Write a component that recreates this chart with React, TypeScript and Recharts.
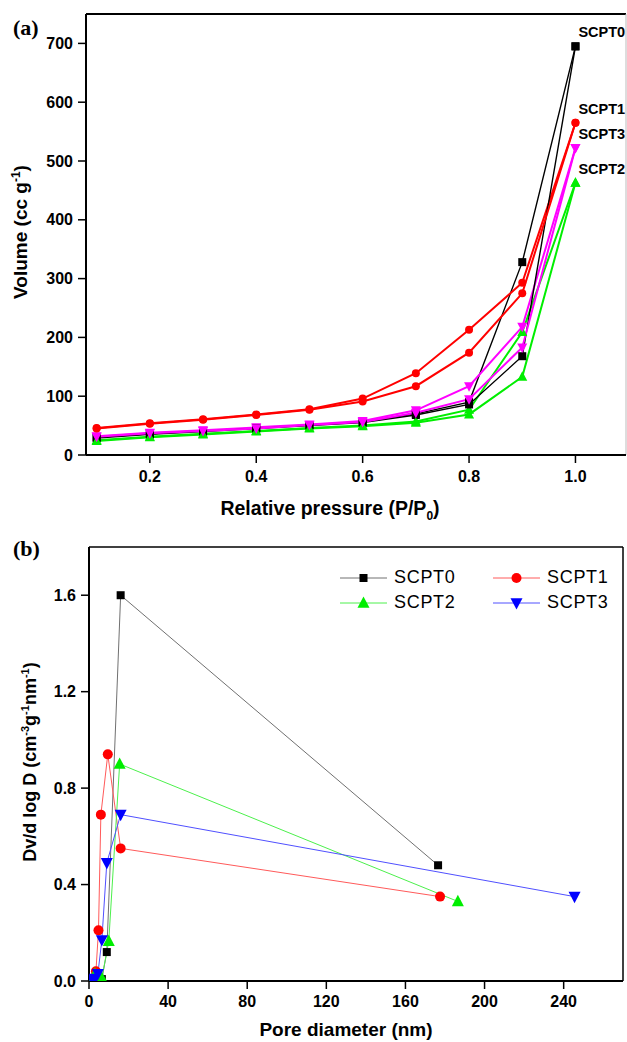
import React from 'react';
import { LineChart, Line, XAxis, YAxis, ReferenceLine, Label, Legend } from 'recharts';

// ---------- Panel (a): N2 isotherms ----------
const pressure = [0.1, 0.2, 0.3, 0.4, 0.5, 0.6, 0.7, 0.8, 0.9, 1.0];
const scpt0Ads = [29, 35, 40, 45, 50, 55, 68, 86, 168, 695];
const scpt0Des = [30, 36, 41, 46, 51, 56, 70, 90, 328, 695];
const scpt1Ads = [45, 53, 60, 68, 77, 91, 117, 174, 275, 565];
const scpt1Des = [46, 54, 61, 69, 78, 96, 139, 213, 293, 565];
const scpt2Ads = [24, 30, 35, 40, 45, 49, 55, 69, 133, 463];
const scpt2Des = [25, 31, 36, 41, 46, 50, 57, 77, 209, 463];
const scpt3Ads = [31, 37, 41, 45, 51, 56, 72, 95, 183, 522];
const scpt3Des = [32, 38, 42, 47, 52, 58, 76, 117, 218, 522];
const pressureTicks = [0.2, 0.4, 0.6, 0.8, 1.0];
const volumeTicks = [0, 100, 200, 300, 400, 500, 600, 700];

// ---------- Panel (b): pore size distribution ----------
const scpt0D = [2, 4, 6.5, 9, 16, 176.5];
const scpt0V = [0.002, 0.005, 0.008, 0.12, 1.6, 0.48];
const scpt1D = [2, 3.5, 4.8, 6, 9.5, 16, 177.5];
const scpt1V = [0.01, 0.04, 0.21, 0.69, 0.94, 0.55, 0.35];
const scpt2D = [2, 3, 6.5, 10, 15.5, 186.5];
const scpt2V = [0.005, 0.03, 0.012, 0.165, 0.9, 0.33];
const scpt3D = [1.8, 3, 4.5, 6.5, 9, 16, 245.5];
const scpt3V = [0.005, 0.01, 0.03, 0.17, 0.49, 0.69, 0.35];
const diameterTicks = [0, 40, 80, 120, 160, 200, 240];
const dvTicks = [0, 0.4, 0.8, 1.2, 1.6];

const FONT = "Arial, 'Liberation Sans', sans-serif";

const toIso = (vals: number[]) => pressure.map((p, i) => ({ p, v: vals[i] }));
const toDesc = (vals: number[]) => toIso(vals).slice().reverse();
const toPsd = (d: number[], v: number[]) => d.map((x, i) => ({ d: x, v: v[i] }));

type Shape = 'square' | 'circle' | 'up' | 'down';

const marker = (shape: Shape, cx: number, cy: number, size: number, fill: string, key?: any) => {
  const h = size / 2;
  if (shape === 'square') return <rect key={key} x={cx - h} y={cy - h} width={size} height={size} fill={fill} />;
  if (shape === 'circle') return <circle key={key} cx={cx} cy={cy} r={h} fill={fill} />;
  if (shape === 'up')
    return <polygon key={key} points={`${cx},${cy - size * 0.55} ${cx - h},${cy + size * 0.4} ${cx + h},${cy + size * 0.4}`} fill={fill} />;
  return <polygon key={key} points={`${cx},${cy + size * 0.55} ${cx - h},${cy - size * 0.4} ${cx + h},${cy - size * 0.4}`} fill={fill} />;
};

const makeDot = (shape: Shape, fill: string, size: number) => (props: any) => {
  const { cx, cy, index } = props;
  if (cx == null || cy == null) return <g key={`d-${index}`} />;
  return marker(shape, cx, cy, size, fill, `d-${index}`);
};

const endLabel = (name: string) => (props: any) => {
  const { x, y, index } = props;
  if (index !== pressure.length - 1) return <g key={`l-${index}`} />;
  return (
    <text key={`l-${index}`} x={x + 3} y={y - 9} fontFamily={FONT} fontWeight="bold" fontSize={14.5} fill="#000">
      {name}
    </text>
  );
};

const isoSeries = [
  { name: 'SCPT0', ads: scpt0Ads, des: scpt0Des, color: '#000000', shape: 'square' as Shape, size: 8, w: 1.4 },
  { name: 'SCPT2', ads: scpt2Ads, des: scpt2Des, color: '#00ee00', shape: 'up' as Shape, size: 10, w: 2 },
  { name: 'SCPT3', ads: scpt3Ads, des: scpt3Des, color: '#ff00ff', shape: 'down' as Shape, size: 10, w: 2 },
  { name: 'SCPT1', ads: scpt1Ads, des: scpt1Des, color: '#ff0000', shape: 'circle' as Shape, size: 8, w: 2 },
];

const psdSeries = [
  { name: 'SCPT0', d: scpt0D, v: scpt0V, line: '#707070', color: '#000000', shape: 'square' as Shape, size: 8 },
  { name: 'SCPT1', d: scpt1D, v: scpt1V, line: '#ff5a5a', color: '#ff0000', shape: 'circle' as Shape, size: 10 },
  { name: 'SCPT2', d: scpt2D, v: scpt2V, line: '#4cf04c', color: '#00ee00', shape: 'up' as Shape, size: 12 },
  { name: 'SCPT3', d: scpt3D, v: scpt3V, line: '#5050ff', color: '#0000ff', shape: 'down' as Shape, size: 12 },
];

const tickStyle = { fill: '#000', fontFamily: FONT, fontWeight: 'bold' as const, fontSize: 16 };

const PsdLegend = () => (
  <div style={{ display: 'grid', gridTemplateColumns: '153px 153px', fontFamily: FONT, fontSize: 18, color: '#000' }}>
    {[psdSeries[0], psdSeries[1], psdSeries[2], psdSeries[3]].map((s) => (
      <div key={s.name} style={{ display: 'flex', alignItems: 'center', height: 25 }}>
        <svg width={47} height={20}>
          <line x1={0} y1={10} x2={47} y2={10} stroke={s.line} strokeWidth={1} />
          {marker(s.shape, 23.5, 10, s.size, s.color)}
        </svg>
        <span style={{ marginLeft: 7, letterSpacing: 0.7 }}>{s.name}</span>
      </div>
    ))}
  </div>
);

export default function App() {
  return (
    <div style={{ position: 'absolute', left: 0, top: 0, width: 627, height: 1042, background: '#fff' }}>
      <div style={{ position: 'absolute', left: 13, top: 15, fontFamily: "'Liberation Serif', 'Times New Roman', serif", fontWeight: 'bold', fontSize: 22 }}>(a)</div>
      <div style={{ position: 'absolute', left: 13, top: 536, fontFamily: "'Liberation Serif', 'Times New Roman', serif", fontWeight: 'bold', fontSize: 22 }}>(b)</div>

      <div style={{ position: 'absolute', left: 0, top: 0 }}>
        <LineChart width={627} height={525} margin={{ top: 14, right: 1, bottom: 40, left: 26 }}>
          <XAxis
            type="number"
            dataKey="p"
            domain={[0.08, 1.095]}
            ticks={pressureTicks}
            tickFormatter={(v: number) => v.toFixed(1)}
            allowDataOverflow
            height={30}
            axisLine={{ stroke: '#000', strokeWidth: 2 }}
            tickLine={{ stroke: '#000', strokeWidth: 1.5 }}
            tickSize={8}
            tickMargin={8}
            tick={tickStyle}
          >
            <Label
              content={() => (
                <text x={330} y={515} textAnchor="middle" fontFamily={FONT} fontWeight="bold" fontSize={19.5} fill="#000">
                  <tspan>Relative pressure (P/P</tspan>
                  <tspan dy={5} fontSize={12}>0</tspan>
                  <tspan dy={-5}>)</tspan>
                </text>
              )}
            />
          </XAxis>
          <YAxis
            type="number"
            domain={[0, 750]}
            ticks={volumeTicks}
            allowDataOverflow
            width={60}
            axisLine={{ stroke: '#000', strokeWidth: 2 }}
            tickLine={{ stroke: '#000', strokeWidth: 1.5 }}
            tickSize={8}
            tickMargin={5}
            tick={tickStyle}
          >
            <Label
              content={() => (
                <text x={27} y={232} transform="rotate(-90, 27, 232)" textAnchor="middle" fontFamily={FONT} fontWeight="bold" fontSize={19} fill="#000">
                  <tspan>Volume (cc g</tspan>
                  <tspan dy={-7} fontSize={12}>-1</tspan>
                  <tspan dy={7}>)</tspan>
                </text>
              )}
            />
          </YAxis>
          <ReferenceLine y={750} stroke="#000" strokeWidth={2} />
          <ReferenceLine x={1.095} stroke="#bbb" strokeWidth={1} />
          {isoSeries.map((s) => (
            <Line
              key={`${s.name}-des`}
              data={toDesc(s.des)}
              dataKey="v"
              stroke={s.color}
              strokeWidth={s.w}
              dot={makeDot(s.shape, s.color, s.size)}
              activeDot={false}
              isAnimationActive={false}
              name={`${s.name} des`}
            />
          ))}
          {isoSeries.map((s) => (
            <Line
              key={`${s.name}-ads`}
              data={toIso(s.ads)}
              dataKey="v"
              stroke={s.color}
              strokeWidth={s.w}
              dot={makeDot(s.shape, s.color, s.size)}
              activeDot={false}
              isAnimationActive={false}
              label={endLabel(s.name)}
              name={s.name}
            />
          ))}
        </LineChart>
      </div>

      <div style={{ position: 'absolute', left: 0, top: 525 }}>
        <LineChart width={627} height={517} margin={{ top: 22, right: 4, bottom: 31, left: 29 }}>
          <XAxis
            type="number"
            dataKey="d"
            domain={[0, 270]}
            ticks={diameterTicks}
            allowDataOverflow
            height={30}
            axisLine={{ stroke: '#000', strokeWidth: 2 }}
            tickLine={{ stroke: '#000', strokeWidth: 1.5 }}
            tickSize={8}
            tickMargin={7}
            tick={tickStyle}
          >
            <Label
              content={() => (
                <text x={346} y={511} textAnchor="middle" fontFamily={FONT} fontWeight="bold" fontSize={19} fill="#000">
                  Pore diameter (nm)
                </text>
              )}
            />
          </XAxis>
          <YAxis
            type="number"
            domain={[0, 1.8]}
            ticks={dvTicks}
            tickFormatter={(v: number) => v.toFixed(1)}
            allowDataOverflow
            width={60}
            axisLine={{ stroke: '#000', strokeWidth: 2 }}
            tickLine={{ stroke: '#000', strokeWidth: 1.5 }}
            tickSize={8}
            tickMargin={5}
            tick={tickStyle}
          >
            <Label
              content={() => (
                <text x={36} y={237} transform="rotate(-90, 36, 237)" textAnchor="middle" fontFamily={FONT} fontWeight="bold" fontSize={18} fill="#000">
                  <tspan>Dv/d log D (cm</tspan>
                  <tspan dy={-7} fontSize={11}>-3</tspan>
                  <tspan dy={7}>g</tspan>
                  <tspan dy={-7} fontSize={11}>-1</tspan>
                  <tspan dy={7}>nm</tspan>
                  <tspan dy={-7} fontSize={11}>-1</tspan>
                  <tspan dy={7}>)</tspan>
                </text>
              )}
            />
          </YAxis>
          <ReferenceLine y={1.8} stroke="#000" strokeWidth={1.5} />
          <ReferenceLine x={270} stroke="#000" strokeWidth={1.5} />
          <Legend
            layout="horizontal"
            verticalAlign="middle"
            align="center"
            content={() => <PsdLegend />}
            wrapperStyle={{ position: 'absolute', left: 340, top: 40, width: 306, height: 50 }}
          />
          {psdSeries.map((s) => (
            <Line
              key={s.name}
              data={toPsd(s.d, s.v)}
              dataKey="v"
              stroke={s.line}
              strokeWidth={1}
              dot={makeDot(s.shape, s.color, s.size)}
              activeDot={false}
              isAnimationActive={false}
              name={s.name}
            />
          ))}
        </LineChart>
      </div>
    </div>
  );
}
